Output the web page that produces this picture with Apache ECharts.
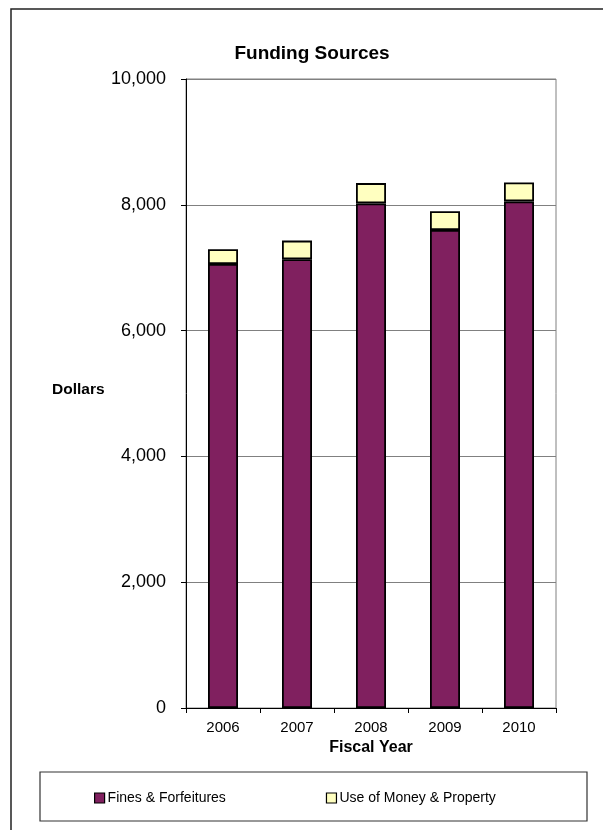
<!DOCTYPE html>
<html>
<head>
<meta charset="utf-8">
<script src="https://cdn.jsdelivr.net/npm/echarts@6/dist/echarts.min.js"></script>
<style>
html,body{margin:0;padding:0;background:#fff;}
#chart{width:603px;height:830px;}
</style>
</head>
<body>
<div id="chart"></div>
<script>
var categories = ['2006', '2007', '2008', '2009', '2010'];
var finesForfeitures = [7059, 7134, 8022, 7600, 8054];
var useOfMoney = [235, 297, 323, 297, 302];
var seriesNames = ['Fines & Forfeitures', 'Use of Money & Property'];
var yTicks = { min: 0, max: 10000, interval: 2000 };

var FONT = '"Liberation Sans", Arial, sans-serif';
var chart = echarts.init(document.getElementById('chart'), null, { renderer: 'canvas' });

var option = {
  backgroundColor: '#fff',
  animation: false,
  textStyle: { fontFamily: FONT, color: '#000' },
  title: {
    text: 'Funding Sources',
    left: 307,
    textAlign: 'center',
    top: 39,
    textStyle: { fontFamily: FONT, fontWeight: 'bold', fontSize: 19, color: '#000' }
  },
  graphic: [
    { type: 'rect', shape: { x: 11, y: 9, width: 800, height: 900 }, style: { fill: 'none', stroke: '#222', lineWidth: 1.5 }, z: -1 },
    { type: 'rect', shape: { x: 40, y: 772, width: 547, height: 49 }, style: { fill: 'none', stroke: '#333', lineWidth: 1.2 } },
    { type: 'text', x: 52, y: 390, style: { text: 'Dollars', fontFamily: FONT, fontWeight: 'bold', fontSize: 15.5, fill: '#000', verticalAlign: 'middle' } }
  ],
  legend: {
    data: seriesNames,
    left: 89,
    top: 786,
    itemGap: 100,
    itemWidth: 10,
    itemHeight: 10,
    icon: 'rect',
    itemStyle: { borderColor: '#000', borderWidth: 1.2 },
    textStyle: { fontFamily: FONT, fontSize: 14, color: '#000', padding: [0, 0, 0, -2] }
  },
  grid: {
    left: 186, right: 47, top: 79, bottom: 122,
    show: true, borderColor: '#808080', borderWidth: 1, backgroundColor: 'transparent'
  },
  xAxis: {
    type: 'category',
    data: categories,
    name: 'Fiscal Year',
    nameLocation: 'middle',
    nameGap: 32,
    nameTextStyle: { fontFamily: FONT, fontWeight: 'bold', fontSize: 16, color: '#000' },
    axisLine: { lineStyle: { color: '#000', width: 1 } },
    axisTick: { show: true, length: 5, alignWithLabel: false, lineStyle: { color: '#000' } },
    axisLabel: { fontFamily: FONT, fontSize: 15, color: '#000', margin: 12 }
  },
  yAxis: {
    type: 'value',
    min: yTicks.min,
    max: yTicks.max,
    interval: yTicks.interval,
    axisLine: { show: true, lineStyle: { color: '#000', width: 1 } },
    axisTick: { show: true, length: 5, lineStyle: { color: '#000' } },
    splitLine: { show: true, lineStyle: { color: '#808080', width: 1 } },
    axisLabel: {
      fontFamily: FONT, fontSize: 18, color: '#000', margin: 20,
      formatter: function (v) { return v.toLocaleString('en-US'); }
    }
  },
  series: [
    {
      name: seriesNames[0], type: 'bar', stack: 'total', barWidth: 30,
      data: finesForfeitures,
      itemStyle: { color: '#80205F', borderColor: '#000', borderWidth: 1.8 }
    },
    {
      name: seriesNames[1], type: 'bar', stack: 'total', barWidth: 30,
      data: useOfMoney,
      itemStyle: { color: '#FFFFC0', borderColor: '#000', borderWidth: 1.8 }
    }
  ]
};
chart.setOption(option);
</script>
</body>
</html>
